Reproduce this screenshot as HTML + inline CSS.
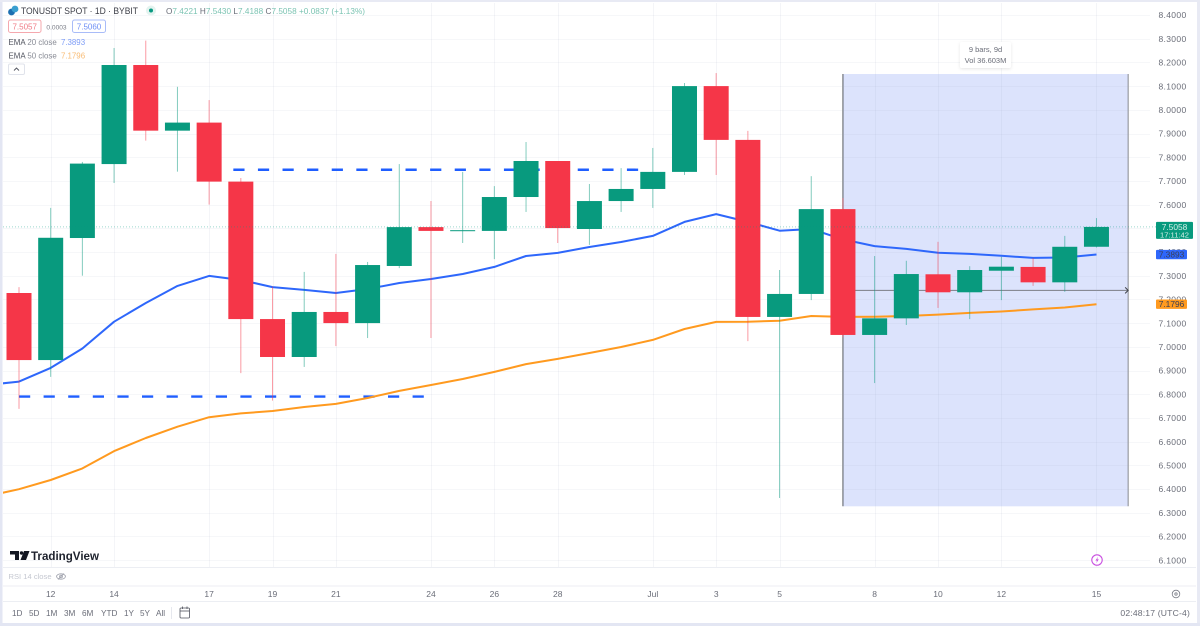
<!DOCTYPE html>
<html lang="en">
<head>
<meta charset="utf-8">
<title>TONUSDT SPOT 1D Chart</title>
<style>
html,body{margin:0;padding:0;width:1200px;height:626px;overflow:hidden;background:#fff;}
svg{display:block;font-family:"Liberation Sans",sans-serif;}
text{fill:#6a6d78;font-size:8.5px;}
</style>
</head>
<body>
<svg id="chart" width="1200" height="626" viewBox="0 0 1200 626" xmlns="http://www.w3.org/2000/svg">
  <defs>
    <clipPath id="pane-clip"><rect x="3" y="3" width="1194" height="564"/></clipPath>
    <filter id="tip-shadow" x="-20%" y="-30%" width="140%" height="160%"><feDropShadow dx="0" dy="1" stdDeviation="1.5" flood-color="#000" flood-opacity="0.10"/></filter>
  </defs>

  <rect x="0" y="0" width="1200" height="626" fill="#ffffff"/>
  <g id="measure"></g>
  <g id="grid"></g>
  <g id="levels"></g>
  <g id="lines" clip-path="url(#pane-clip)"></g>
  <g id="candles" clip-path="url(#pane-clip)"></g>
  <g id="price-line"></g>
  <g id="y-axis"></g>
  <g id="y-tags"></g>
  <g id="x-axis"></g>

  <g>
    <rect x="960" y="42" width="51" height="26" rx="2" fill="#fff" filter="url(#tip-shadow)"/>
    <text x="985.5" y="52" text-anchor="middle" style="font-size:7.5px">9 bars, 9d</text>
    <text x="985.5" y="63" text-anchor="middle" style="font-size:7.5px">Vol 36.603M</text>
  </g>

  <g>
    <g>
      <circle cx="11.5" cy="12" r="3.4" fill="#1c6fb0"/>
      <circle cx="15" cy="9" r="3.4" fill="#3a9fd0"/>
    </g>
    <text x="21" y="14" textLength="117" lengthAdjust="spacingAndGlyphs" style="font-size:9.6px;fill:#3c3e47">TONUSDT SPOT · 1D · BYBIT</text>
    <circle cx="151" cy="10.5" r="5" fill="#e3f3ef"/>
    <circle cx="151" cy="10.5" r="2" fill="#089981"/>
    <text x="166" y="14" textLength="199" lengthAdjust="spacing" style="font-size:8.2px;fill:#7cc4b3"><tspan fill="#6a6d78">O</tspan>7.4221 <tspan fill="#6a6d78">H</tspan>7.5430 <tspan fill="#6a6d78">L</tspan>7.4188 <tspan fill="#6a6d78">C</tspan>7.5058 +0.0837 (+1.13%)</text>

    <rect x="8.5" y="20" width="32.5" height="12.5" rx="2" fill="#fff" stroke="#f5a8ae"/>
    <text x="24.7" y="29.5" text-anchor="middle" style="font-size:8px;fill:#ef7a84">7.5057</text>
    <text x="56.5" y="29.5" text-anchor="middle" style="font-size:6.6px;fill:#7a7d87">0.0003</text>
    <rect x="72.5" y="20" width="33" height="12.5" rx="2" fill="#fff" stroke="#a9bcf8"/>
    <text x="89" y="29.5" text-anchor="middle" style="font-size:8px;fill:#6d8ef5">7.5060</text>

    <text x="8.5" y="45" style="font-size:7.9px;fill:#888b95"><tspan fill="#50535e">EMA</tspan> 20 close <tspan fill="#7d9cf6" dx="2">7.3893</tspan></text>
    <text x="8.5" y="58.5" style="font-size:7.9px;fill:#888b95"><tspan fill="#50535e">EMA</tspan> 50 close <tspan fill="#f8bb73" dx="2">7.1796</tspan></text>
    <rect x="8.5" y="64" width="16" height="10.5" rx="1.5" fill="#fff" stroke="#e0e3eb"/>
    <path d="M14 70.5 L16.5 68 L19 70.5" fill="none" stroke="#50535e" stroke-width="0.9"/>
  </g>

  <g>
    <path d="M10 551 H19 V560 H15 V554.5 H10 Z M24 551 H29.5 L26 560 H20.5 Z" fill="#131722"/>
    <circle cx="21.5" cy="553" r="1.7" fill="#131722"/>
    <text x="31" y="560" textLength="68" lengthAdjust="spacingAndGlyphs" style="font-size:12.2px;font-weight:700;fill:#1e222d">TradingView</text>
  </g>

  <g>
    <circle cx="1097" cy="560" r="5.2" fill="#fff" stroke="#c94fe0" stroke-width="1.1"/>
    <path d="M1098 556.8 L1095.4 560.6 H1097 L1096.2 563.2 L1098.8 559.4 H1097.2 Z" fill="#c94fe0"/>
  </g>

  <g>
    <line x1="3" x2="1196" y1="567.5" y2="567.5" stroke="#eceef3"/>
    <text x="8.5" y="579" style="font-size:7.6px;fill:#c4c7d0">RSI 14 close</text>
    <g fill="none" stroke="#9a9da8" stroke-width="0.8">
      <ellipse cx="61" cy="576.5" rx="4.4" ry="2.7"/>
      <circle cx="61" cy="576.5" r="1.4"/>
      <line x1="58" y1="579.5" x2="64" y2="573.5"/>
    </g>
    <line x1="3" x2="1196" y1="586" y2="586" stroke="#eceef3"/>
  </g>

  <line x1="3" x2="1196" y1="601.5" y2="601.5" stroke="#eceef3"/>
  <g fill="none" stroke="#7a7d87" stroke-width="0.8">
    <circle cx="1176" cy="594" r="3.8"/>
    <circle cx="1176" cy="594" r="1.2"/>
  </g>

  <g>
    <text x="12" y="616" style="font-size:8.2px">1D</text>
    <text x="29" y="616" style="font-size:8.2px">5D</text>
    <text x="46" y="616" style="font-size:8.2px">1M</text>
    <text x="64" y="616" style="font-size:8.2px">3M</text>
    <text x="82" y="616" style="font-size:8.2px">6M</text>
    <text x="101" y="616" style="font-size:8.2px">YTD</text>
    <text x="124" y="616" style="font-size:8.2px">1Y</text>
    <text x="140" y="616" style="font-size:8.2px">5Y</text>
    <text x="156" y="616" style="font-size:8.2px">All</text>
    <line x1="171.5" x2="171.5" y1="607" y2="619" stroke="#e6e8ee"/>
    <g fill="none" stroke="#50535e" stroke-width="0.8">
      <rect x="180" y="608" width="9.5" height="10" rx="1"/>
      <line x1="180" x2="189.5" y1="611" y2="611"/>
      <line x1="182.5" x2="182.5" y1="606.5" y2="609"/>
      <line x1="187" x2="187" y1="606.5" y2="609"/>
    </g>
  </g>
  <text x="1190" y="616" text-anchor="end" style="font-size:8.6px;letter-spacing:0.02em">02:48:17 (UTC-4)</text>

  <g>
    <rect x="0" y="0" width="2.5" height="626" fill="#e3e6f3"/>
    <rect x="0" y="0" width="1200" height="2" fill="#e8eaf4"/>
    <rect x="1197" y="0" width="3" height="626" fill="#e8eaf4"/>
    <rect x="0" y="623" width="1200" height="3" fill="#e3e6f3"/>
  </g>
</svg>

<script>
// Chart data
const dates = ["06-11","06-12","06-13","06-14","06-15","06-16","06-17","06-18","06-19","06-20","06-21","06-22","06-23","06-24","06-25","06-26","06-27","06-28","06-29","06-30","07-01","07-02","07-03","07-04","07-05","07-06","07-07","07-08","07-09","07-10","07-11","07-12","07-13","07-14","07-15"];
const opens = [7.227,6.944,7.459,7.771,8.189,7.912,7.946,7.697,7.117,6.957,7.147,7.100,7.341,7.505,7.488,7.489,7.632,7.784,7.497,7.615,7.666,7.738,8.100,7.873,7.126,7.223,7.581,7.050,7.120,7.306,7.230,7.321,7.337,7.272,7.4221];
const highs = [7.252,7.586,7.780,8.261,8.292,8.097,8.041,7.712,7.254,7.316,7.392,7.358,7.771,7.615,7.738,7.678,7.864,7.784,7.687,7.754,7.839,8.113,8.155,7.911,7.324,7.720,7.628,7.383,7.363,7.443,7.340,7.380,7.374,7.468,7.5430];
const lows = [6.738,6.873,7.300,7.691,7.870,7.739,7.600,6.889,6.773,6.915,7.003,7.037,7.332,7.037,7.438,7.370,7.569,7.438,7.430,7.569,7.586,7.725,7.725,7.024,6.362,7.197,7.040,6.847,7.092,7.164,7.117,7.197,7.257,7.232,7.4188];
const closes = [6.944,7.460,7.773,8.189,7.912,7.946,7.697,7.117,6.957,7.147,7.100,7.345,7.505,7.489,7.492,7.632,7.784,7.501,7.615,7.666,7.738,8.100,7.873,7.126,7.223,7.581,7.050,7.120,7.307,7.230,7.324,7.338,7.272,7.422,7.5058];
// EMA series start one bar before the first visible candle
const ema20 = [6.839,6.853,6.911,6.993,7.106,7.185,7.257,7.299,7.282,7.252,7.240,7.227,7.244,7.269,7.286,7.307,7.337,7.383,7.396,7.421,7.442,7.468,7.527,7.560,7.527,7.490,7.497,7.453,7.425,7.413,7.397,7.392,7.384,7.375,7.377,7.3893];
const ema50 = [6.370,6.399,6.438,6.487,6.560,6.615,6.663,6.703,6.719,6.729,6.746,6.759,6.784,6.814,6.839,6.864,6.894,6.927,6.949,6.974,6.999,7.029,7.075,7.105,7.106,7.110,7.130,7.126,7.127,7.130,7.136,7.143,7.149,7.158,7.166,7.1796];
const priceTicks = ["8.4000","8.3000","8.2000","8.1000","8.0000","7.9000","7.8000","7.7000","7.6000","7.5000","7.4000","7.3000","7.2000","7.1000","7.0000","6.9000","6.8000","6.7000","6.6000","6.5000","6.4000","6.3000","6.2000","6.1000"];
const timeTickDates = ["06-12","06-14","06-17","06-19","06-21","06-24","06-26","06-28","07-01","07-03","07-05","07-08","07-10","07-12","07-15"];
const timeTickLabels = ["12","14","17","19","21","24","26","28","Jul","3","5","8","10","12","15"];
const resistanceLevel = 7.747;
const supportLevel = 6.790;
const resistanceBars = ["06-18","07-01"];
const supportBars = ["06-11","06-24"];
const measureBars = ["07-07","07-15"];
const measureTopPrice = 8.151;
const measureBottomPrice = 6.327;
const measureArrowPrice = 7.238;
const lastPrice = 7.5058;
const ema20Last = 7.3893;
const ema50Last = 7.1796;

// Axis functions
const NS = "http://www.w3.org/2000/svg";
const barStep = 31.69;
function xScale(i){ return 19 + i * barStep; }
function yScale(p){ return 15 + (8.4 - p) * 237; }
function dateIndex(label){ return dates.indexOf(label); }
function make(tag, attrs, parent){
  const el = document.createElementNS(NS, tag);
  for (const k in attrs) el.setAttribute(k, attrs[k]);
  parent.appendChild(el);
  return el;
}
const gridG = document.getElementById("grid");
const measureG = document.getElementById("measure");
const levelsG = document.getElementById("levels");
const linesG = document.getElementById("lines");
const candlesG = document.getElementById("candles");
const priceLineG = document.getElementById("price-line");
const yAxisG = document.getElementById("y-axis");
const yTagsG = document.getElementById("y-tags");
const xAxisG = document.getElementById("x-axis");

// Measure range background
const measureLeft = xScale(dateIndex(measureBars[0]));
const measureRight = xScale(dateIndex(measureBars[1])) + barStep;
const measureTop = yScale(measureTopPrice);
const measureBottom = yScale(measureBottomPrice);
const measureRect = make("rect", {x: measureLeft, y: measureTop, width: measureRight - measureLeft, height: measureBottom - measureTop, fill: "#dce3fc"}, measureG);



// Grid
priceTicks.forEach(function(t){
  const y = Math.round(yScale(parseFloat(t))) + 0.5;
  const line = make("line", {x1: 3, x2: 1150, y1: y, y2: y, stroke: "#9aa3c0", "stroke-opacity": 0.09}, gridG);
  
  
});
timeTickDates.forEach(function(d, k){
  const x = Math.round(xScale(dateIndex(d))) + 0.5;
  const line = make("line", {x1: x, x2: x, y1: 3, y2: 567, stroke: "#9aa3c0", "stroke-opacity": 0.11}, gridG);
  
  
  const label = make("text", {x: xScale(dateIndex(d)), y: 597, "text-anchor": "middle"}, xAxisG);
  
  
  label.textContent = timeTickLabels[k];
});

// Measure borders and arrow
const borderLeft = make("line", {x1: measureLeft, x2: measureLeft, y1: measureTop, y2: measureBottom, stroke: "#55585f", "stroke-width": 1}, measureG);


const borderRight = make("line", {x1: measureRight, x2: measureRight, y1: measureTop, y2: measureBottom, stroke: "#85888f", "stroke-width": 1}, measureG);


const arrowY = yScale(measureArrowPrice);
const arrowLine = make("line", {x1: measureLeft, x2: measureRight, y1: arrowY, y2: arrowY, stroke: "#7b7e86", "stroke-width": 1}, measureG);


const arrowHead = make("path", {d: "M" + (measureRight - 3) + " " + (arrowY - 3) + " L" + measureRight + " " + arrowY + " L" + (measureRight - 3) + " " + (arrowY + 3), fill: "none", stroke: "#3f4249", "stroke-width": 1}, measureG);



// Level dashed lines
function drawLevel(price, barRange, startPad, endPad, name){
  const y = yScale(price);
  const line = make("line", {
    x1: xScale(dateIndex(barRange[0])) + startPad,
    x2: xScale(dateIndex(barRange[1])) + endPad,
    y1: y, y2: y, stroke: "#1f5eff", "stroke-width": 2.4, "stroke-dasharray": "11.2 13.4"
  }, levelsG);
  
  
}
drawLevel(resistanceLevel, resistanceBars, -7.5, -12, 'resistance-level-line');
drawLevel(supportLevel, supportBars, 0, 0, 'support-level-line');

// EMA lines
function linePoints(values){
  return values.map(function(v, i){ return xScale(i - 1).toFixed(1) + "," + yScale(v).toFixed(1); }).join(" ");
}
const ema50Line = make("polyline", {points: linePoints(ema50), fill: "none", stroke: "#ff9a1f", "stroke-width": 2, "stroke-linejoin": "round"}, linesG);


const ema20Line = make("polyline", {points: linePoints(ema20), fill: "none", stroke: "#2e67fb", "stroke-width": 2, "stroke-linejoin": "round"}, linesG);



// Candles
dates.forEach(function(d, i){
  const up = closes[i] >= opens[i];
  const color = up ? "#089a7e" : "#f53648";
  const x = xScale(i);
  const wick = make("line", {x1: x, x2: x, y1: yScale(highs[i]), y2: yScale(lows[i]), stroke: color, "stroke-opacity": 0.5, "stroke-width": 1}, candlesG);
  
  
  const top = yScale(Math.max(opens[i], closes[i]));
  const bottom = yScale(Math.min(opens[i], closes[i]));
  const body = make("rect", {x: x - 12.5, y: top, width: 25, height: Math.max(bottom - top, 1), fill: color}, candlesG);
  
  
});

// Last price dotted line
const lastY = yScale(lastPrice);
const lastLine = make("line", {x1: 3, x2: 1156, y1: lastY, y2: lastY, stroke: "#089981", "stroke-opacity": 0.4, "stroke-width": 1, "stroke-dasharray": "1 2"}, priceLineG);



// Price axis labels
priceTicks.forEach(function(t){
  const label = make("text", {x: 1172.5, y: yScale(parseFloat(t)) + 3.2, "text-anchor": "middle", style: "letter-spacing:0.04em"}, yAxisG);
  
  
  label.textContent = t;
});

// Price axis tags
function priceTag(price, color, name){
  const y = yScale(price);
  const box = make("rect", {x: 1156, y: y - 4.7, width: 31, height: 9.4, rx: 1, fill: color}, yTagsG);
  
  
  const text = make("text", {x: 1171.5, y: y + 3, "text-anchor": "middle", style: "fill:#3b3f55;font-size:8.4px"}, yTagsG);
  
  
  text.textContent = price.toFixed(4);
}
priceTag(ema20Last, "#2e67fb", 'ema-20-tag');
priceTag(ema50Last, "#ff9a1f", 'ema-50-tag');
const lastBox = make("rect", {x: 1156, y: lastY - 5, width: 37, height: 17, rx: 1, fill: "#089a7e"}, yTagsG);


const lastText = make("text", {x: 1174.5, y: lastY + 3, "text-anchor": "middle", style: "fill:#d5efe8;font-size:8.4px"}, yTagsG);


lastText.textContent = lastPrice.toFixed(4);
const countdownText = make("text", {x: 1174.5, y: lastY + 10.4, "text-anchor": "middle", style: "fill:#d5efe8;font-size:7.6px"}, yTagsG);


countdownText.textContent = "17:11:42";
</script>
</body>
</html>
